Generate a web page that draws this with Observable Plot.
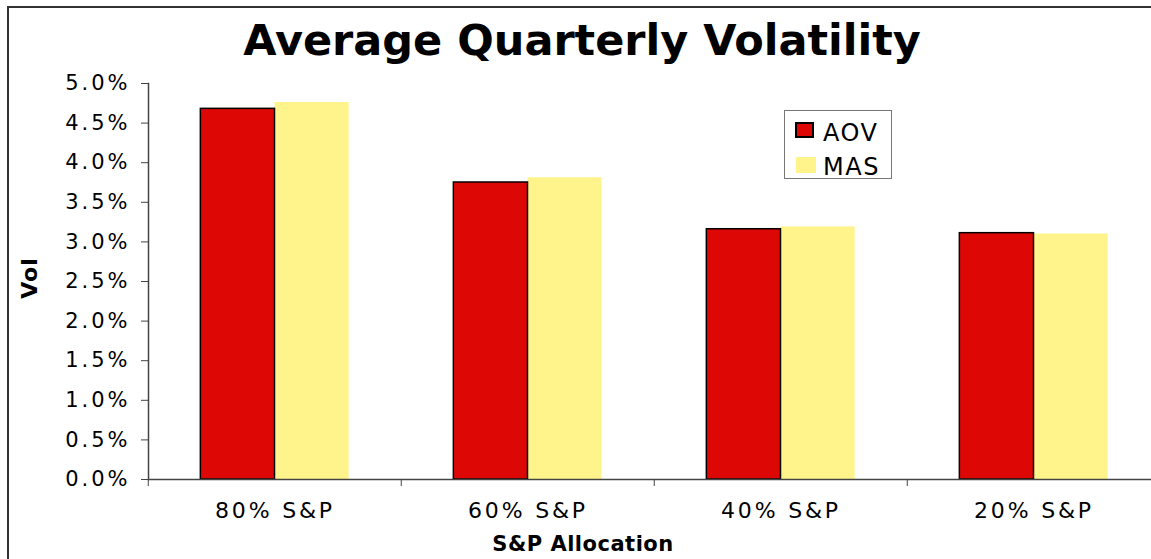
<!DOCTYPE html>
<html><head><meta charset="utf-8">
<script src="https://cdn.jsdelivr.net/npm/d3@7"></script>
<script src="https://cdn.jsdelivr.net/npm/@observablehq/plot@0.6"></script>
<style>
html,body{margin:0;padding:0;background:#fff;}
#wrap{position:relative;width:1151px;height:559px;overflow:hidden;font-family:"DejaVu Sans",sans-serif;color:#000;}
#border{position:absolute;left:7px;top:6px;width:1200px;height:600px;border:2px solid #333;box-sizing:border-box;}
#chart{position:absolute;left:0;top:0;}
#title{position:absolute;left:0;width:1164px;top:19px;text-align:center;font-weight:bold;font-size:43px;line-height:43px;white-space:nowrap;}
#xlabel{position:absolute;left:0;width:1166px;top:534px;text-align:center;font-weight:bold;font-size:21px;line-height:21px;letter-spacing:0.5px;white-space:nowrap;}
#ylabel{position:absolute;left:30px;top:278px;transform:translate(-50%,-50%) rotate(-90deg);font-weight:bold;font-size:22px;line-height:22px;letter-spacing:1px;white-space:nowrap;}
#legend{position:absolute;left:784px;top:110px;width:108px;height:69px;border:1px solid #777;box-sizing:border-box;background:#fff;}
.sw{position:absolute;box-sizing:border-box;}
.lt{position:absolute;left:38px;font-size:24px;line-height:24px;letter-spacing:1.5px;white-space:nowrap;}
svg [aria-label="y-axis tick label"] text{letter-spacing:3px;}
svg [aria-label="fx-axis tick label"] text{letter-spacing:2.8px;}
</style>
</head><body>
<div id="wrap">
  <div id="chart"></div>
  <div id="border"></div>
  <div id="title"></div>
  <div id="ylabel"></div>
  <div id="xlabel"></div>
  <div id="legend"></div>
</div>
<script>
const titleText = "Average Quarterly Volatility";
const xTitle = "S&P Allocation";
const yTitle = "Vol";
const categories = ["80% S&P", "60% S&P", "40% S&P", "20% S&P"];
const series = ["AOV", "MAS"];
const aovValues = [0.0468, 0.0375, 0.0316, 0.0311];
const masValues = [0.0476, 0.0381, 0.0319, 0.0310];
const seriesColors = ["#DD0806", "#FFF38B"];
const yTicks = [0, 0.005, 0.01, 0.015, 0.02, 0.025, 0.03, 0.035, 0.04, 0.045, 0.05];

const rows = [];
categories.forEach((c, i) => {
  rows.push({cat: c, series: series[0], value: aovValues[i]});
  rows.push({cat: c, series: series[1], value: masValues[i]});
});

const W = 1151, H = 559;
const mL = 147, mT = 83, mB = 80, mR = -10;
const bandW = (W - mR - mL) / categories.length;

const plot = Plot.plot({
  width: W, height: H,
  marginLeft: mL, marginTop: mT, marginBottom: mB, marginRight: mR,
  style: {background: "transparent", overflow: "visible", fontFamily: "DejaVu Sans, sans-serif", color: "#000"},
  fx: {domain: categories, padding: 0, label: null, axis: null},
  x: {domain: series, paddingInner: 0, paddingOuter: 0.706, axis: null, round: false},
  y: {domain: [0, 0.05], axis: null},
  color: {domain: series, range: seriesColors},
  marks: [
    Plot.barY(rows.filter(d => d.series === series[1]), {fx: "cat", x: "series", y: "value", fill: "series"}),
    Plot.barY(rows.filter(d => d.series === series[0]), {fx: "cat", x: "series", y: "value", fill: "series", stroke: "#000", strokeWidth: 1.5}),
    Plot.ruleY([0], {stroke: "#444", strokeWidth: 1.5}),
    Plot.frame({anchor: "left", facetAnchor: "left", stroke: "#444", strokeWidth: 1.5}),
    Plot.axisY({ticks: yTicks, tickFormat: d3.format(".1%"), tickSize: 7, tickPadding: 11, fontSize: 21, stroke: "#444", fill: "#000", label: null}),
    Plot.axisFx({anchor: "bottom", tickSize: 0, tickPadding: 23, fontSize: 22, fill: "#000", label: null}),
    Plot.axisFx({anchor: "bottom", tickSize: 7, text: null, dx: -bandW / 2, stroke: "#444", label: null})
  ]
});
document.getElementById("chart").appendChild(plot);
document.getElementById("title").textContent = titleText;
document.getElementById("xlabel").textContent = xTitle;
document.getElementById("ylabel").textContent = yTitle;

const legend = document.getElementById("legend");
const swPos = [{l: 10, t: 11, w: 19, h: 16}, {l: 11, t: 46, w: 20, h: 16}];
const txtTop = [10, 44];
series.forEach((s, i) => {
  const sw = document.createElement("div");
  sw.className = "sw";
  sw.style.left = swPos[i].l + "px"; sw.style.top = swPos[i].t + "px";
  sw.style.width = swPos[i].w + "px"; sw.style.height = swPos[i].h + "px";
  sw.style.background = seriesColors[i];
  if (i === 0) sw.style.border = "2px solid #000";
  legend.appendChild(sw);
  const t = document.createElement("div");
  t.className = "lt";
  t.style.top = txtTop[i] + "px";
  t.textContent = s;
  legend.appendChild(t);
});
</script>
</body></html>
